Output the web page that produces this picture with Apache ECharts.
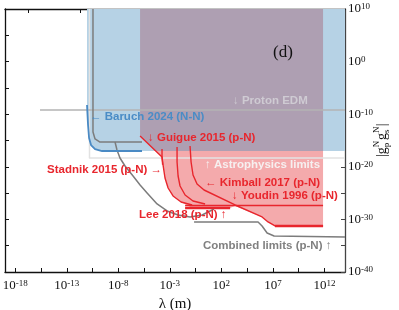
<!DOCTYPE html>
<html><head><meta charset="utf-8">
<script src="https://cdn.jsdelivr.net/npm/echarts@6/dist/echarts.min.js"></script>
<style>html,body{margin:0;padding:0;background:#fff}#c{width:399px;height:310px}</style>
</head><body><div id="c"></div>
<script>
// All values are log10 exponents: x = log10(lambda / m), y = log10(|g_p^N g_s^N|)
const xLabelExps = [-18, -13, -8, -3, 2, 7, 12];
const xBottomTicks = [-18, -15.5, -13, -10.5, -8, -5.5, -3, -0.5, 2, 4.5, 7, 9.5, 12];
const xTopTicks = [-16.7, -11.7, -6.7, -1.7, 3.3, 8.3, 13.3];

// excluded regions
const pinkX = [-5.89, -5.89, -3.76, -3.66, -3.47, -3.17, -2.69, -1.91, -1.04, 2.85, 3.33, 5.95, 6.53, 7.21, 11.87, 11.87];
const pinkY = [10, -14.14, -18.14, -19.66, -22.13, -24.03, -25.55, -26.69, -27.64, -27.83, -27.45, -29.54, -30.49, -31.25, -31.25, 10];
const blueX = [-11.04, -11.04, -10.94, -10.84, -10.65, -10.26, -9.58, 14];
const blueY = [10, -8.25, -12.05, -14.52, -15.86, -16.62, -17.0, -17.0];
const overlapX = [-5.89, -5.89, -4.44, 11.87, 11.87];
const overlapY = [10, -14.14, -17.0, -17.0, 10];

// curves
const baruchX = [-11.04, -10.94, -10.84, -10.65, -10.26, -9.58, -5.70];
const baruchY = [-8.25, -12.05, -14.52, -15.86, -16.62, -17.0, -17.0];
const edmX = [-15.6, 14];
const edmY = [-9.2, -9.2];
const astroX = [-10.80, -10.80, 14];
const astroY = [10, -18.33, -18.33];
const comb1X = [-10.46, -10.46, -10.26, -9.78, -5.70];
const comb1Y = [10, -13.38, -14.71, -15.29, -15.29];
const comb2X = [-8.32, -8.13, -7.84, -7.35, -6.57, -5.89, -5.21, -4.24, -3.27, -2.20, -1.04, 0.13, 1.29];
const comb2Y = [-15.29, -16.81, -18.33, -19.85, -21.75, -23.46, -24.98, -27.07, -28.40, -29.16, -29.54, -29.16, -28.02];
const comb3X = [-0.65, 5.56, 5.95, 6.44, 7.12, 14];
const comb3Y = [-30.49, -30.49, -31.25, -32.59, -33.16, -33.35];
const guigueX = [-5.89, -3.76, -3.66, -3.47, -3.17, -2.69, -1.91, -0.84];
const guigueY = [-14.14, -18.14, -19.66, -22.13, -24.03, -25.55, -26.69, -27.26];
const stadnikX = [-3.76, -3.76, -3.70];
const stadnikY = [-16.6, -18.14, -19.6];
const curveBX = [-2.30, -2.30, -2.20, -2.01, -1.52, -0.75, 0.42];
const curveBY = [-16.24, -19.09, -21.75, -23.65, -25.36, -26.50, -27.07];
const kimballX = [-1.04, -0.94, -0.75, -0.36, 0.32, 3.33, 5.95, 6.53, 7.21, 11.87];
const kimballY = [-16.05, -19.09, -21.56, -23.27, -24.41, -27.26, -29.54, -30.49, -31.25, -31.25];
const youdinX = [-1.52, 11.87];
const youdinY = [-27.36, -27.36];
const leeX = [-1.52, 2.85];
const leeY = [-27.83, -27.83];

const zip = (xs, ys) => xs.map((x, i) => [x, ys[i]]);
const RED = '#e8262d', GRAY = '#7c7c7c';

function area(xs, ys, color, z) {
  return {type: 'line', data: zip(xs, ys), showSymbol: false, symbol: 'none', silent: true, z: z,
    lineStyle: {width: 0, color: color}, areaStyle: {color: color, opacity: 1, origin: 'end'}};
}
function curve(xs, ys, color, w, z) {
  return {type: 'line', data: zip(xs, ys), showSymbol: false, symbol: 'none', silent: true, z: z || 5,
    lineStyle: {width: w, color: color, cap: 'butt', join: 'round'}};
}

const serif = '"Liberation Serif","DejaVu Serif",serif';
const sans = '"Liberation Sans","DejaVu Sans",sans-serif';
const richLbl = {
  b: {fontFamily: serif, fontSize: 13, color: '#111', padding: [4, 0, 0, 0], lineHeight: 13, verticalAlign: 'bottom'},
  s: {fontFamily: serif, fontSize: 9, color: '#111', lineHeight: 10, verticalAlign: 'top'}
};
const supFmt = v => '{b|10}{s|' + Math.round(v) + '}';

const chart = echarts.init(document.getElementById('c'), null, {renderer: 'canvas'});
const txt = (text, x, y, color, extra) => Object.assign({type: 'text', x: x, y: y, z: 20, silent: true,
  style: {text: text, fill: color, font: 'bold 11.5px ' + sans, textAlign: 'left', textVerticalAlign: 'middle'}}, extra || {});

chart.setOption({
  animation: false,
  grid: {left: 5, right: 54, top: 9, bottom: 38, containLabel: false, outerBoundsMode: 'none'},
  xAxis: [
    {type: 'value', min: -19, max: 14, position: 'bottom',
      axisLine: {show: true, onZero: false, lineStyle: {color: '#111', width: 1.3}},
      axisTick: {show: true, inside: true, length: 4, customValues: xBottomTicks, lineStyle: {color: '#111'}},
      axisLabel: {show: true, customValues: xLabelExps, formatter: supFmt, rich: richLbl, margin: 7},
      splitLine: {show: false},
      name: 'λ (m)', nameLocation: 'middle', nameGap: 21,
      nameTextStyle: {fontFamily: serif, fontSize: 15, color: '#111'}},
    {type: 'value', min: -19, max: 14, position: 'top',
      axisLine: {show: true, onZero: false, lineStyle: {color: '#111', width: 1.3}},
      axisTick: {show: true, inside: true, length: 4, customValues: xTopTicks, lineStyle: {color: '#111'}},
      axisLabel: {show: false}, splitLine: {show: false}}
  ],
  yAxis: [
    {type: 'value', min: -40, max: 10, interval: 5, position: 'left',
      axisLine: {show: true, onZero: false, lineStyle: {color: '#111', width: 1.3}},
      axisTick: {show: true, inside: true, length: 4, lineStyle: {color: '#111'}},
      axisLabel: {show: false}, splitLine: {show: false}},
    {type: 'value', min: -40, max: 10, interval: 5, position: 'right',
      axisLine: {show: true, onZero: false, lineStyle: {color: '#444', width: 1.3}},
      axisTick: {show: true, inside: true, length: 4, lineStyle: {color: '#444'}},
      axisLabel: {show: true, margin: 3, formatter: v => (v % 10 === 0 ? supFmt(v) : ''), rich: richLbl},
      splitLine: {show: false}}
  ],
  series: [
    area(pinkX, pinkY, '#f4aaac', 1),
    area(blueX, blueY, '#b6d2e5', 2),
    area(overlapX, overlapY, '#ae9fb2', 3),
    curve(astroX, astroY, '#e2e2e2', 1.5, 4),
    curve(edmX, edmY, '#b3b3b3', 1.5, 4),
    curve(comb1X, comb1Y, GRAY, 1.5),
    curve(comb2X, comb2Y, GRAY, 1.5),
    curve(comb3X, comb3Y, GRAY, 1.5),
    curve(baruchX, baruchY, '#4a8ac4', 1.8),
    curve(guigueX, guigueY, RED, 1.4, 6),
    curve(stadnikX, stadnikY, RED, 1.4, 6),
    curve(curveBX, curveBY, RED, 1.4, 6),
    curve(kimballX, kimballY, RED, 1.4, 6),
    curve(youdinX, youdinY, RED, 1.4, 6),
    curve(leeX, leeY, RED, 2.4, 6),
    {type: 'line', data: zip([kimballX[8], kimballX[9]], [kimballY[8], kimballY[9]]), showSymbol: false, symbol: 'none',
      silent: true, z: 6, lineStyle: {width: 2.6, color: RED}}
  ],
  graphic: [
    {type: 'text', x: 283, y: 53, z: 20, silent: true, style: {text: '(d)', fill: '#111', font: '17px ' + serif, textAlign: 'center', textVerticalAlign: 'middle'}},
    txt('↓ Proton EDM', 233, 101, '#cfcbd3'),
    txt('← Baruch 2024 (N-N)', 90, 117, '#4a8cc6'),
    txt('↓ Guigue 2015 (p-N)', 148, 138, RED),
    txt('Stadnik 2015 (p-N) →', 47, 170, RED),
    txt('↑ Astrophysics limits', 205, 165, '#f6f0f0'),
    txt('← Kimball 2017 (p-N)', 205, 183, RED),
    txt('↓ Youdin 1996 (p-N)', 232, 196, RED),
    txt('Lee 2018 (p-N) ↑', 139, 215, RED),
    txt('Combined limits (p-N) ↑', 203, 246, '#808080'),
    {type: 'group', x: 382, y: 140, rotation: Math.PI / 2, silent: true, children: [
      {type: 'text', x: -17, y: 0, style: {text: '|g', fill: '#111', font: '14px ' + serif, textAlign: 'left', textVerticalAlign: 'middle'}},
      {type: 'text', x: -7.3, y: -5, style: {text: 'N', fill: '#111', font: '9px ' + serif, textAlign: 'left', textVerticalAlign: 'middle'}},
      {type: 'text', x: -7.3, y: 4.5, style: {text: 'p', fill: '#111', font: '9px ' + serif, textAlign: 'left', textVerticalAlign: 'middle'}},
      {type: 'text', x: 0, y: 0, style: {text: 'g', fill: '#111', font: '14px ' + serif, textAlign: 'left', textVerticalAlign: 'middle'}},
      {type: 'text', x: 7, y: -5, style: {text: 'N', fill: '#111', font: '9px ' + serif, textAlign: 'left', textVerticalAlign: 'middle'}},
      {type: 'text', x: 7, y: 4.5, style: {text: 's', fill: '#111', font: '9px ' + serif, textAlign: 'left', textVerticalAlign: 'middle'}},
      {type: 'text', x: 13.8, y: 0, style: {text: '|', fill: '#111', font: '14px ' + serif, textAlign: 'left', textVerticalAlign: 'middle'}}
    ]}
  ]
});
</script></body></html>
